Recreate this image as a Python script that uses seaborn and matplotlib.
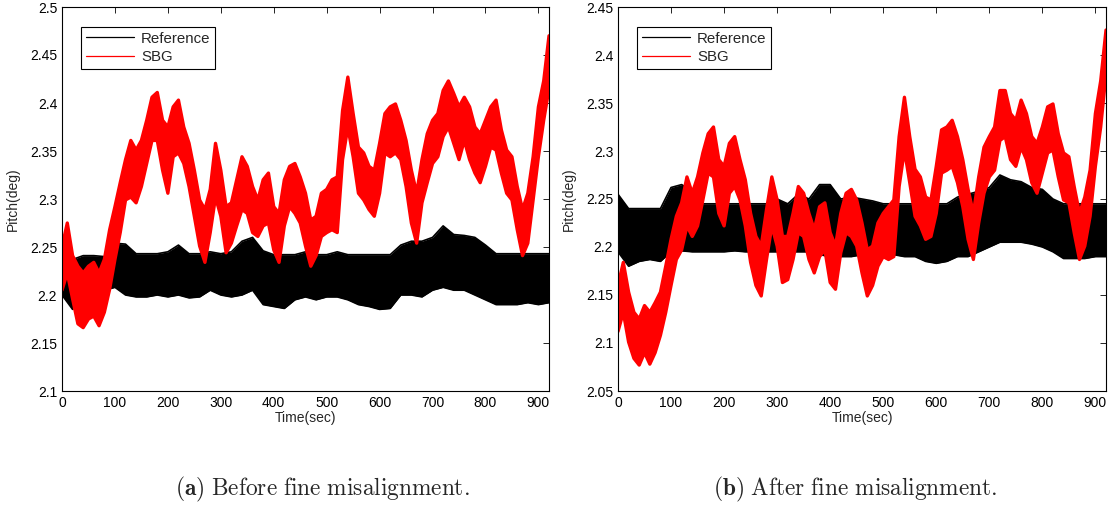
import numpy as np
import pandas as pd
import matplotlib
matplotlib.use("Agg")
import matplotlib.pyplot as plt
import seaborn as sns
from matplotlib.lines import Line2D

# ---------------- data ----------------
# time grids (sec)
T_RED = list(range(0, 921, 10))
T_BLK = list(range(0, 921, 20))

# (a) Before fine misalignment -- SBG band (upper / lower envelope)
red_a_hi = [2.250, 2.275, 2.241, 2.230, 2.223, 2.230, 2.234, 2.223, 2.237, 2.268,
            2.292, 2.317, 2.341, 2.361, 2.351, 2.361, 2.382, 2.406, 2.411, 2.382,
            2.375, 2.396, 2.403, 2.375, 2.358, 2.330, 2.299, 2.289, 2.310, 2.358,
            2.330, 2.292, 2.296, 2.320, 2.344, 2.334, 2.313, 2.299, 2.320, 2.327,
            2.292, 2.285, 2.320, 2.334, 2.337, 2.323, 2.306, 2.278, 2.282, 2.306,
            2.310, 2.320, 2.323, 2.392, 2.427, 2.389, 2.354, 2.348, 2.334, 2.330,
            2.358, 2.389, 2.396, 2.399, 2.382, 2.361, 2.330, 2.306, 2.341, 2.368,
            2.382, 2.389, 2.413, 2.423, 2.410, 2.396, 2.406, 2.396, 2.375, 2.368,
            2.382, 2.396, 2.403, 2.372, 2.351, 2.344, 2.313, 2.289, 2.306, 2.344,
            2.396, 2.423, 2.470]
red_a_lo = [2.205, 2.223, 2.196, 2.170, 2.166, 2.175, 2.178, 2.168, 2.182, 2.206,
            2.237, 2.265, 2.299, 2.302, 2.296, 2.313, 2.337, 2.361, 2.361, 2.330,
            2.306, 2.344, 2.348, 2.337, 2.313, 2.282, 2.251, 2.234, 2.265, 2.302,
            2.282, 2.244, 2.254, 2.272, 2.289, 2.285, 2.265, 2.261, 2.272, 2.275,
            2.247, 2.234, 2.272, 2.292, 2.285, 2.275, 2.251, 2.230, 2.241, 2.261,
            2.265, 2.268, 2.265, 2.341, 2.375, 2.344, 2.306, 2.299, 2.289, 2.282,
            2.306, 2.348, 2.344, 2.348, 2.341, 2.313, 2.275, 2.254, 2.296, 2.317,
            2.337, 2.344, 2.365, 2.375, 2.358, 2.341, 2.361, 2.341, 2.327, 2.317,
            2.334, 2.354, 2.351, 2.327, 2.306, 2.299, 2.268, 2.241, 2.254, 2.299,
            2.344, 2.382, 2.415]
# (a) Reference band
blk_a_hi = [2.255, 2.237, 2.241, 2.241, 2.240, 2.254, 2.253, 2.243, 2.243, 2.243,
            2.245, 2.252, 2.243, 2.243, 2.245, 2.243, 2.245, 2.256, 2.260, 2.246,
            2.242, 2.242, 2.242, 2.245, 2.242, 2.242, 2.245, 2.242, 2.242, 2.242,
            2.242, 2.242, 2.252, 2.256, 2.256, 2.260, 2.272, 2.263, 2.262, 2.260,
            2.252, 2.243, 2.243, 2.243, 2.243, 2.243, 2.243]
blk_a_lo = [2.200, 2.185, 2.203, 2.205, 2.205, 2.208, 2.200, 2.198, 2.198, 2.200,
            2.198, 2.200, 2.197, 2.198, 2.205, 2.200, 2.198, 2.200, 2.205, 2.190,
            2.188, 2.186, 2.195, 2.198, 2.195, 2.198, 2.198, 2.195, 2.190, 2.188,
            2.185, 2.186, 2.200, 2.200, 2.198, 2.205, 2.208, 2.205, 2.205, 2.200,
            2.195, 2.190, 2.190, 2.190, 2.192, 2.190, 2.192]

# (b) After fine misalignment -- SBG band
red_b_hi = [2.160, 2.184, 2.153, 2.132, 2.125, 2.139, 2.132, 2.142, 2.153, 2.180,
            2.208, 2.232, 2.246, 2.273, 2.256, 2.273, 2.298, 2.318, 2.325, 2.291,
            2.284, 2.308, 2.315, 2.291, 2.270, 2.235, 2.211, 2.201, 2.239, 2.273,
            2.249, 2.211, 2.211, 2.235, 2.263, 2.256, 2.235, 2.218, 2.242, 2.246,
            2.215, 2.201, 2.235, 2.256, 2.260, 2.249, 2.225, 2.197, 2.201, 2.225,
            2.235, 2.242, 2.249, 2.315, 2.356, 2.315, 2.281, 2.273, 2.252, 2.249,
            2.284, 2.322, 2.325, 2.332, 2.315, 2.291, 2.260, 2.235, 2.273, 2.304,
            2.315, 2.325, 2.363, 2.363, 2.339, 2.332, 2.353, 2.339, 2.315, 2.308,
            2.325, 2.346, 2.349, 2.318, 2.298, 2.294, 2.263, 2.235, 2.252, 2.280,
            2.339, 2.373, 2.426]
red_b_lo = [2.112, 2.132, 2.101, 2.084, 2.077, 2.090, 2.078, 2.090, 2.108, 2.132,
            2.160, 2.187, 2.197, 2.222, 2.211, 2.222, 2.249, 2.277, 2.273, 2.235,
            2.222, 2.256, 2.263, 2.249, 2.222, 2.184, 2.160, 2.149, 2.187, 2.222,
            2.201, 2.163, 2.166, 2.187, 2.215, 2.211, 2.187, 2.173, 2.190, 2.197,
            2.163, 2.156, 2.194, 2.215, 2.211, 2.201, 2.173, 2.149, 2.160, 2.180,
            2.190, 2.187, 2.190, 2.263, 2.301, 2.267, 2.232, 2.222, 2.208, 2.211,
            2.235, 2.277, 2.280, 2.284, 2.267, 2.242, 2.208, 2.187, 2.225, 2.256,
            2.273, 2.280, 2.311, 2.315, 2.291, 2.284, 2.304, 2.291, 2.267, 2.256,
            2.277, 2.298, 2.301, 2.273, 2.249, 2.246, 2.215, 2.187, 2.201, 2.232,
            2.284, 2.325, 2.380]
# (b) Reference band
blk_b_hi = [2.255, 2.240, 2.240, 2.240, 2.240, 2.262, 2.265, 2.258, 2.245, 2.245,
            2.245, 2.245, 2.245, 2.245, 2.245, 2.250, 2.245, 2.255, 2.250, 2.265,
            2.265, 2.250, 2.252, 2.250, 2.248, 2.245, 2.245, 2.245, 2.245, 2.245,
            2.245, 2.245, 2.252, 2.255, 2.258, 2.262, 2.275, 2.270, 2.268, 2.262,
            2.260, 2.250, 2.245, 2.245, 2.245, 2.245, 2.245]
blk_b_lo = [2.195, 2.180, 2.185, 2.187, 2.185, 2.195, 2.196, 2.195, 2.195, 2.195,
            2.195, 2.196, 2.195, 2.195, 2.195, 2.195, 2.195, 2.195, 2.195, 2.192,
            2.190, 2.190, 2.190, 2.192, 2.190, 2.195, 2.192, 2.190, 2.190, 2.185,
            2.183, 2.185, 2.190, 2.190, 2.195, 2.200, 2.205, 2.205, 2.205, 2.203,
            2.200, 2.195, 2.188, 2.188, 2.188, 2.190, 2.190]

X_TICKS = [0, 100, 200, 300, 400, 500, 600, 700, 800, 900]
Y_TICKS_A = [2.1, 2.15, 2.2, 2.25, 2.3, 2.35, 2.4, 2.45, 2.5]
Y_TICKS_B = [2.05, 2.1, 2.15, 2.2, 2.25, 2.3, 2.35, 2.4, 2.45]
SERIES = ["Reference", "SBG"]
COLORS = ["black", "red"]
CAPTIONS = [r"$\mathbf{(a)}\ \mathrm{Before\ fine\ misalignment.}$",
            r"$\mathbf{(b)}\ \mathrm{After\ fine\ misalignment.}$"]

# ---------------- styling ----------------
sns.set_theme(style="white")
plt.rcParams['font.family'] = ['Liberation Sans', 'DejaVu Sans']
plt.rcParams['mathtext.fontset'] = 'cm'

W, H = 1111, 511
fig = plt.figure(figsize=(W / 100, H / 100), dpi=100)
axA = fig.add_axes([62 / W, 120 / H, 487 / W, 384 / H])
axB = fig.add_axes([618 / W, 120 / H, 488 / W, 384 / H])


def band(ax, t, lo, hi, color, lw, z):
    ax.fill_between(t, lo, hi, color=color, lw=0, zorder=z)
    sns.lineplot(x=t, y=hi, color=color, lw=lw, ax=ax, zorder=z + 0.1)
    sns.lineplot(x=t, y=lo, color=color, lw=lw, ax=ax, zorder=z + 0.1)


def panel(ax, blk_lo, blk_hi, red_lo, red_hi, yticks, caption, cx):
    band(ax, T_BLK, blk_lo, blk_hi, COLORS[0], 1.2, 1)
    band(ax, T_RED, red_lo, red_hi, COLORS[1], 2.4, 2)
    ax.set_xlim(0, 920)
    ax.set_ylim(yticks[0], yticks[-1])
    ax.set_xticks(X_TICKS)
    ax.set_xticklabels([str(v) for v in X_TICKS])
    ax.set_yticks(yticks)
    ax.set_yticklabels(["%g" % v for v in yticks])
    ax.tick_params(direction="in", top=True, right=True, length=4, width=0.6,
                   labelsize=10, colors="black", pad=3.5)
    for s in ax.spines.values():
        s.set_color("black")
        s.set_linewidth(0.8)
        s.set_zorder(5)
    ax.set_xlabel("Time(sec)", fontsize=10, labelpad=1)
    ax.set_ylabel("Pitch(deg)", fontsize=10, labelpad=7)
    handles = [Line2D([], [], color=c, lw=0.9) for c in COLORS]
    leg = ax.legend(handles, SERIES, loc="upper left",
                    bbox_to_anchor=(19 / 487, 364 / 384), borderaxespad=0,
                    fontsize=10.8, frameon=True, fancybox=False, framealpha=1,
                    handlelength=3.2, handletextpad=0.5, labelspacing=0.3,
                    borderpad=0.3)
    leg.get_frame().set_edgecolor("black")
    leg.get_frame().set_linewidth(0.8)
    leg.set_zorder(10)
    fig.text(cx / W, 22 / H, caption, ha="center", va="center", fontsize=16.8)


panel(axA, blk_a_lo, blk_a_hi, red_a_lo, red_a_hi, Y_TICKS_A, CAPTIONS[0], 322)
panel(axB, blk_b_lo, blk_b_hi, red_b_lo, red_b_hi, Y_TICKS_B, CAPTIONS[1], 855)

fig.savefig("out.png", dpi=100, facecolor="white")
